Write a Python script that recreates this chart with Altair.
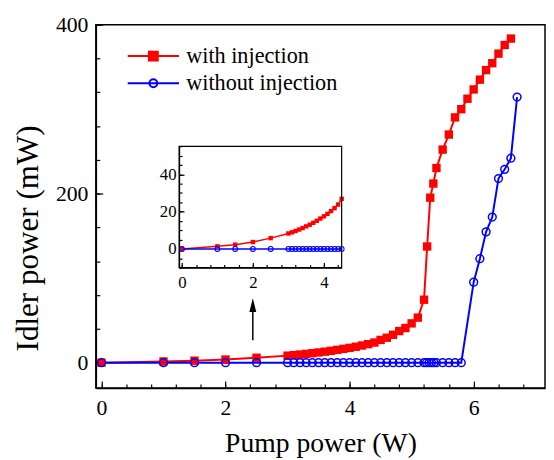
import altair as alt
import pandas as pd

FONT = "Liberation Serif"

# ---------------- data ----------------
series = ["with injection", "without injection"]
colors = ["#ff0000", "#0000ff"]
legend_fills = ["#ff0000", "transparent"]

red_x = [0, 1.0, 1.5, 2.0, 2.5, 3.0, 3.1, 3.2, 3.3, 3.4, 3.5, 3.6, 3.7, 3.8, 3.9,
         4.0, 4.1, 4.2, 4.3, 4.4, 4.5, 4.6, 4.7, 4.8, 4.9, 5.0, 5.1, 5.2, 5.25,
         5.3, 5.35, 5.4, 5.5, 5.6, 5.7, 5.8, 5.9, 6.0, 6.1, 6.2, 6.3, 6.4, 6.5, 6.6]
red_y = [0, 1.4, 2.3, 3.7, 5.8, 8.3, 8.9, 9.6, 10.4, 11.2, 12.1, 13.0, 14.0, 15.1, 16.3,
         17.5, 18.8, 20.3, 21.9, 23.8, 26.9, 29.5, 33.0, 37.4, 41.0, 46.5, 53.3, 74.5, 137.5,
         195.3, 212.0, 230.4, 252.2, 270.0, 290.3, 300.0, 312.4, 323.4, 335.0, 346.3, 354.5,
         365.8, 376.0, 383.6]

blue_x = [0, 1.0, 1.5, 2.0, 2.5, 3.0, 3.1, 3.2, 3.3, 3.4, 3.5, 3.6, 3.7, 3.8, 3.9,
          4.0, 4.1, 4.2, 4.3, 4.4, 4.5, 4.6, 4.7, 4.8, 4.9, 5.0, 5.1, 5.2, 5.24, 5.28,
          5.32, 5.36, 5.4, 5.5, 5.6, 5.7, 5.8, 6.0, 6.1, 6.2, 6.3, 6.4, 6.5, 6.6, 6.7]
blue_y = [0, 0, 0, 0, 0, 0, 0, 0, 0, 0, 0, 0, 0, 0, 0,
          0, 0, 0, 0, 0, 0, 0, 0, 0, 0, 0, 0, 0, 0, 0,
          0, 0, 0, 0, 0, 0, 0, 95.3, 123.0, 154.8, 172.3, 217.9, 228.8, 242.0, 314.4]

main_xdomain = [-0.09, 7.15]
main_ydomain = [-30, 400]
main_xmajor = [0, 2, 4, 6]
main_xminor = [0, 0.4, 0.8, 1.2, 1.6, 2, 2.4, 2.8, 3.2, 3.6, 4, 4.4, 4.8, 5.2, 5.6, 6, 6.4, 6.8]
main_ymajor = [0, 200, 400]
main_yminor = [0, 40, 80, 120, 160, 200, 240, 280, 320, 360, 400]

inset_xdomain = [-0.08, 4.5]
inset_ydomain = [-10, 55]
inset_xmajor = [0, 2, 4]
inset_xminor = [0, 0.4, 0.8, 1.2, 1.6, 2, 2.4, 2.8, 3.2, 3.6, 4, 4.4]
inset_ymajor = [0, 20, 40]
inset_yminor = [-10, -5, 0, 5, 10, 15, 20, 25, 30, 35, 40, 45, 50, 55]

arrow_x = [2.44]
arrow_y = [26.4]
arrow_y2 = [68.1]

# ---------------- tables ----------------
df = pd.DataFrame({
    "x": red_x + blue_x,
    "y": red_y + blue_y,
    "series": [series[0]] * len(red_x) + [series[1]] * len(blue_x),
})
red_df = df[df["series"] == series[0]]
blue_df = df[df["series"] == series[1]]
inset_red_df = red_df[red_df["x"] <= inset_xdomain[1]]
inset_blue_df = blue_df[blue_df["x"] <= inset_xdomain[1]]
arrow_df = pd.DataFrame({"x": arrow_x, "y": arrow_y, "y2": arrow_y2})
frame_df = pd.DataFrame({"x": [inset_xdomain[0]], "x2": [inset_xdomain[1]],
                         "y": [inset_ydomain[0]], "y2": [inset_ydomain[1]]})
legend_df = pd.DataFrame({"x": [0.0, 0.0], "y": [0.0, 0.0], "series": series})

W, H = 455, 368
# inset box, in pixels of the main plot area
IX0, IX1, IY0, IY1 = 84.3, 249.0, 246.0, 123.3

RED_PATH = "M-5.2,0L5.2,0M-0.9,-0.9L0.9,-0.9L0.9,0.9L-0.9,0.9Z"
BLUE_PATH = "M-5.2,0L5.2,0M0.8,0A0.8,0.8,0,1,1,-0.8,0A0.8,0.8,0,1,1,0.8,0Z"
TRI_PATH = "M0,-1L0.5,1L-0.5,1Z"


def sc(domain, rng=None):
    if rng is None:
        return alt.Scale(domain=domain, nice=False, zero=False)
    return alt.Scale(domain=domain, range=rng, nice=False, zero=False)


def tick_layer(data, xdom, ydom, xvals, yvals, size, xoff, yoff, xr=None, yr=None):
    """Invisible layer that only carries inward-pointing ticks."""
    common = dict(labels=False, domain=False, grid=False, title=None, tickSize=size,
                  tickColor="black", tickWidth=1.2)
    return alt.Chart(data).mark_point(opacity=0).encode(
        x=alt.X("x:Q", scale=sc(xdom, xr),
                axis=alt.Axis(orient="top", offset=xoff, values=xvals, **common)),
        y=alt.Y("y:Q", scale=sc(ydom, yr),
                axis=alt.Axis(orient="right", offset=yoff, values=yvals, **common)),
    )


lab = dict(labelFont=FONT, labelColor="black", labelFlush=False, labelOverlap=False,
           labelBound=False, format="d", grid=False, ticks=False)

# ---------------- main panel ----------------
x_axis = alt.Axis(
    values=main_xmajor, title="Pump power (W)", labelFontSize=22, labelPadding=10,
    titleFont=FONT, titleFontSize=28, titleY=64, titleBaseline="alphabetic", **lab,
)
y_axis = alt.Axis(
    values=main_ymajor, title="Idler power (mW)", labelFontSize=22, labelPadding=8,
    titleFont=FONT, titleFontSize=31.5, titleX=-59.2, titleY=216, titleBaseline="alphabetic", **lab,
)

legend = alt.Legend(
    title=None, orient="none", legendX=47, legendY=20.5, padding=0,
    labelFont=FONT, labelFontSize=22.5, labelColor="black", labelOffset=22, labelLimit=400,
    symbolSize=100, symbolStrokeWidth=2, rowPadding=4.5, symbolOpacity=1,
)

main_red_line = alt.Chart(red_df).mark_line(strokeWidth=2, color=colors[0]).encode(
    x=alt.X("x:Q", scale=sc(main_xdomain), axis=x_axis),
    y=alt.Y("y:Q", scale=sc(main_ydomain), axis=y_axis),
)
main_blue_line = alt.Chart(blue_df).mark_line(strokeWidth=2, color=colors[1]).encode(
    x="x:Q", y="y:Q")
main_red = alt.Chart(red_df).mark_point(
    shape="square", filled=True, size=72, color=colors[0], opacity=1
).encode(x="x:Q", y="y:Q")
main_blue = alt.Chart(blue_df).mark_point(
    shape="circle", filled=False, size=62, strokeWidth=1.5, color=colors[1], opacity=1
).encode(x="x:Q", y="y:Q")
arrow_rule = alt.Chart(arrow_df).mark_rule(color="black", strokeWidth=1.5).encode(
    x="x:Q", y="y:Q", y2="y2:Q")
arrow_head = alt.Chart(arrow_df).mark_point(
    shape=TRI_PATH, filled=True, size=196, color="black", opacity=1
).encode(x="x:Q", y="y2:Q")

legend_layer = alt.Chart(legend_df).mark_point(opacity=0, strokeWidth=2).encode(
    x="x:Q", y="y:Q",
    stroke=alt.Stroke("series:N", scale=alt.Scale(domain=series, range=colors), legend=legend),
    fill=alt.Fill("series:N", scale=alt.Scale(domain=series, range=legend_fills), legend=legend),
    shape=alt.Shape("series:N", scale=alt.Scale(domain=series, range=[RED_PATH, BLUE_PATH]),
                    legend=legend),
)

main = alt.layer(main_red_line, main_blue_line, main_red, main_blue,
                 arrow_rule, arrow_head, legend_layer)

main_major = tick_layer(df, main_xdomain, main_ydomain, main_xmajor, main_ymajor,
                        7, -H, -W)
main_minor = tick_layer(df, main_xdomain, main_ydomain, main_xminor, main_yminor,
                        4, -H, -W)

# ---------------- inset panel ----------------
ix_axis = alt.Axis(
    orient="bottom", offset=-(H - IY0), values=inset_xmajor, title=None,
    labelFontSize=17, labelPadding=7, domainWidth=1.2, **lab,
)
iy_axis = alt.Axis(
    orient="left", offset=-IX0, values=inset_ymajor, title=None,
    labelFontSize=17, labelPadding=3, domainWidth=1.2, **lab,
)

inset_red_line = alt.Chart(inset_red_df).mark_line(strokeWidth=1.5, color=colors[0]).encode(
    x=alt.X("x:Q", scale=sc(inset_xdomain, [IX0, IX1]), axis=ix_axis),
    y=alt.Y("y:Q", scale=sc(inset_ydomain, [IY0, IY1]), axis=iy_axis),
)
inset_blue_line = alt.Chart(inset_blue_df).mark_line(strokeWidth=1.5, color=colors[1]).encode(
    x="x:Q", y="y:Q")
inset_red = alt.Chart(inset_red_df).mark_point(
    shape="square", filled=True, size=20, color=colors[0], opacity=1
).encode(x="x:Q", y="y:Q")
inset_blue = alt.Chart(inset_blue_df).mark_point(
    shape="circle", filled=False, size=24, strokeWidth=1.1, color=colors[1], opacity=1
).encode(x="x:Q", y="y:Q")
inset_frame = alt.Chart(frame_df).mark_rect(
    fillOpacity=0, stroke="black", strokeWidth=1.2
).encode(x="x:Q", x2="x2:Q", y="y:Q", y2="y2:Q")

inset = alt.layer(inset_red_line, inset_blue_line, inset_red, inset_blue, inset_frame)

inset_major = tick_layer(df, inset_xdomain, inset_ydomain, inset_xmajor, inset_ymajor,
                         5, -IY0, IX0 - W, [IX0, IX1], [IY0, IY1])
inset_minor = tick_layer(df, inset_xdomain, inset_ydomain, inset_xminor, inset_yminor,
                         3, -IY0, IX0 - W, [IX0, IX1], [IY0, IY1])

chart = alt.layer(main, main_major, main_minor, inset, inset_major, inset_minor).resolve_scale(
    x="independent", y="independent"
).resolve_axis(
    x="independent", y="independent"
).properties(
    width=W, height=H,
    padding={"left": 89, "top": 14, "right": 1, "bottom": 70},
    autosize=alt.AutoSizeParams(type="none"),
).configure(
    font=FONT
).configure_view(
    stroke="black", strokeWidth=1.5
).configure_axis(
    domainColor="black", domainWidth=1.5, tickColor="black", tickWidth=1.2,
    labelFont=FONT, titleFont=FONT, labelColor="black", titleColor="black",
    titleFontWeight="normal",
).configure_legend(
    labelFont=FONT
)

chart.save("out.html", embed_options={"renderer": "svg", "actions": False})
